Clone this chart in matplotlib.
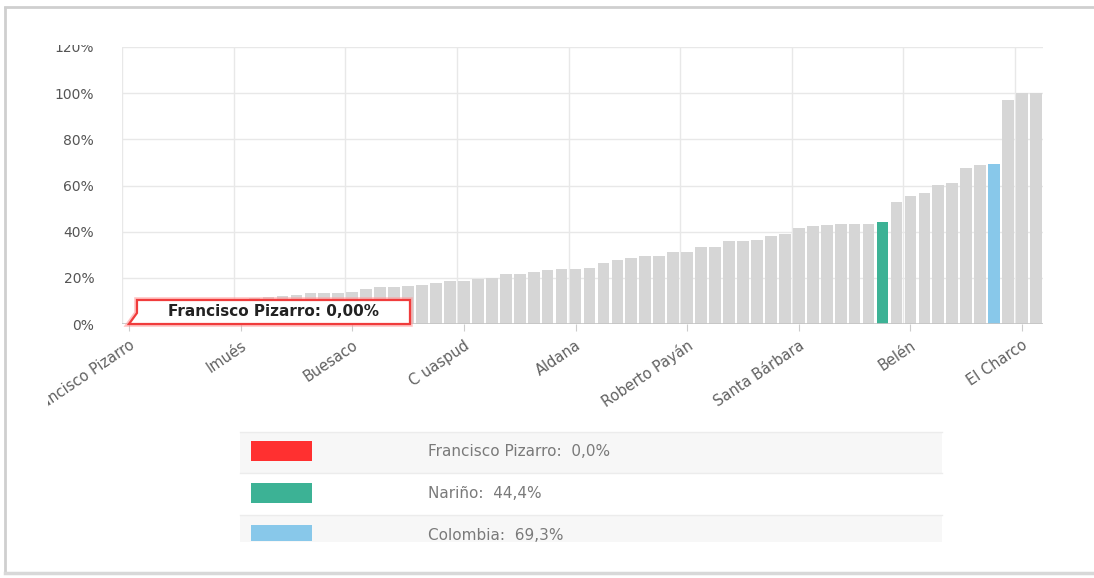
import matplotlib
matplotlib.use("Agg")
import matplotlib.pyplot as plt
import matplotlib.transforms as mtransforms
from matplotlib.patches import Polygon, Rectangle
from matplotlib.lines import Line2D

W, H = 1094, 578

# sorted share per municipality (%), last two highlighted bars are Nariño and Colombia
values = [
    0.0, 1.0, 2.5, 4.0, 5.5, 7.0, 8.0, 9.0, 10.0, 11.4,
    11.6, 12.3, 12.6, 13.3, 13.5, 13.6, 13.8, 15.3, 15.9, 15.9,
    16.6, 16.7, 17.6, 18.5, 18.7, 19.5, 19.8, 21.5, 21.6, 22.6,
    23.6, 23.7, 24.0, 24.4, 26.3, 27.6, 28.6, 29.3, 29.4, 31.2,
    31.4, 33.4, 33.5, 36.0, 36.1, 36.3, 38.2, 39.2, 41.4, 42.3,
    43.0, 43.5, 43.5, 43.5, 44.4, 52.7, 55.4, 56.6, 60.2, 60.9,
    67.6, 68.7, 69.3, 97.0, 100.0, 100.0,
]
tick_labels = ["Francisco Pizarro", "Imués", "Buesaco", "C uaspud", "Aldana",
               "Roberto Payán", "Santa Bárbara", "Belén", "El Charco"]
tick_step = 8

highlight_names = ["Francisco Pizarro", "Nariño", "Colombia"]
highlight_idx = [0, 54, 62]
highlight_colors = ["#ff3030", "#3cb295", "#88c8ea"]

bar_color = "#d6d6d6"


def px(x, y):
    return x / W, 1 - y / H


def white_box(ax, x0, y0, x1, y1):
    # masks part of the figure, like the crop of the original screenshot
    fx, fy = px(x0, y1)
    ax.add_patch(Rectangle((fx, fy), (x1 - x0) / W, (y1 - y0) / H, transform=ax.figure.transFigure,
                           facecolor="white", edgecolor="none", clip_on=False, zorder=10))


fig = plt.figure(figsize=(W / 100, H / 100), dpi=100)
ax = fig.add_axes([122 / W, 1 - 324 / H, 921 / W, 277 / H])

colors = [bar_color] * len(values)
for i, c in zip(highlight_idx, highlight_colors):
    colors[i] = c
xs = list(range(len(values)))
ax.bar(xs, values, width=0.84, color=colors, zorder=2)

ax.set_xlim(-0.5, len(values) - 0.5)
ax.set_ylim(0, 120)
ax.set_yticks(range(0, 121, 20))
ax.set_yticklabels([f"{v}%" for v in range(0, 121, 20)])
ticks = list(range(0, len(values), tick_step))
ax.set_xticks(ticks)
ax.set_xticklabels(tick_labels, rotation=34, ha="right", va="top", rotation_mode="anchor")

for v in range(20, 121, 20):
    ax.axhline(v, color="#e8e8e8", lw=1, zorder=1)
for t in ticks:
    ax.axvline(t - 0.5, color="#e8e8e8", lw=1, zorder=1)
ax.axhline(0, color="#c4c4c4", lw=1.2, zorder=3)

for s in ax.spines.values():
    s.set_visible(False)
ax.tick_params(axis="y", length=0, pad=20, labelsize=10, labelcolor="#555555")
ax.tick_params(axis="x", length=5, color="#cccccc", pad=5, labelsize=10.5, labelcolor="#606060")

white_box(ax, 7, 326, 48, 440)
white_box(ax, 20, 9, 118, 45)

# tooltip anchored at the first bar
anchor = mtransforms.Affine2D() + mtransforms.ScaledTranslation(0, values[0], ax.transData)
verts = [(0, 0), (8, 11), (8, 24), (281, 24), (281, 0)]
ax.add_patch(Polygon(verts, closed=True, facecolor="white", edgecolor="#ff9a9a",
                     lw=4, alpha=0.6, transform=anchor, clip_on=False, zorder=5))
ax.add_patch(Polygon(verts, closed=True, facecolor="white", edgecolor="#f03c3c",
                     lw=1.6, transform=anchor, clip_on=False, zorder=6))
ax.text(144.5, 12, f"{highlight_names[0]}: {values[0]:.2f}%".replace(".", ","),
        transform=anchor, ha="center", va="center", fontsize=11, fontweight="bold",
        color="#222222", zorder=7)

# legend table under the chart
row_tops = [432, 473, 515]
row_bg = ["#f7f7f7", "white", "#f7f7f7"]
for top, bg in zip(row_tops, row_bg):
    bottom = min(top + 42, 542)
    x0, y0 = px(240, bottom)
    fig.patches.append(Rectangle((x0, y0), 702 / W, (bottom - top) / H,
                                 transform=fig.transFigure, facecolor=bg, edgecolor="none"))
    fig.lines.append(Line2D([240 / W, 942 / W], [1 - top / H] * 2, transform=fig.transFigure,
                            color="#ececec", lw=1))

for k, (name, i, c) in enumerate(zip(highlight_names, highlight_idx, highlight_colors)):
    cy = 451 + 42 * k
    top = cy - 10
    bottom = min(cy + 10, 541)
    x0, y0 = px(251, bottom)
    fig.patches.append(Rectangle((x0, y0), 61 / W, (bottom - top) / H,
                                 transform=fig.transFigure, facecolor=c, edgecolor="none"))
    label = f"{name}:  {values[i]:.1f}%".replace(".", ",")
    tx, ty = px(428, cy)
    fig.text(tx, ty, label, ha="left", va="center", fontsize=11, color="#7a7a7a")

# card frame
fig.lines.append(Line2D([5 / W, 5 / W], [1 - 8 / H, 1 - 573 / H], transform=fig.transFigure,
                        color="#cfcfcf", lw=2))
fig.lines.append(Line2D([5 / W, 1], [1 - 7 / H, 1 - 7 / H], transform=fig.transFigure,
                        color="#cfcfcf", lw=2))
fig.lines.append(Line2D([5 / W, 1], [1 - 573 / H, 1 - 573 / H], transform=fig.transFigure,
                        color="#d8d8d8", lw=2.5))

fig.savefig("out.png", dpi=100)
